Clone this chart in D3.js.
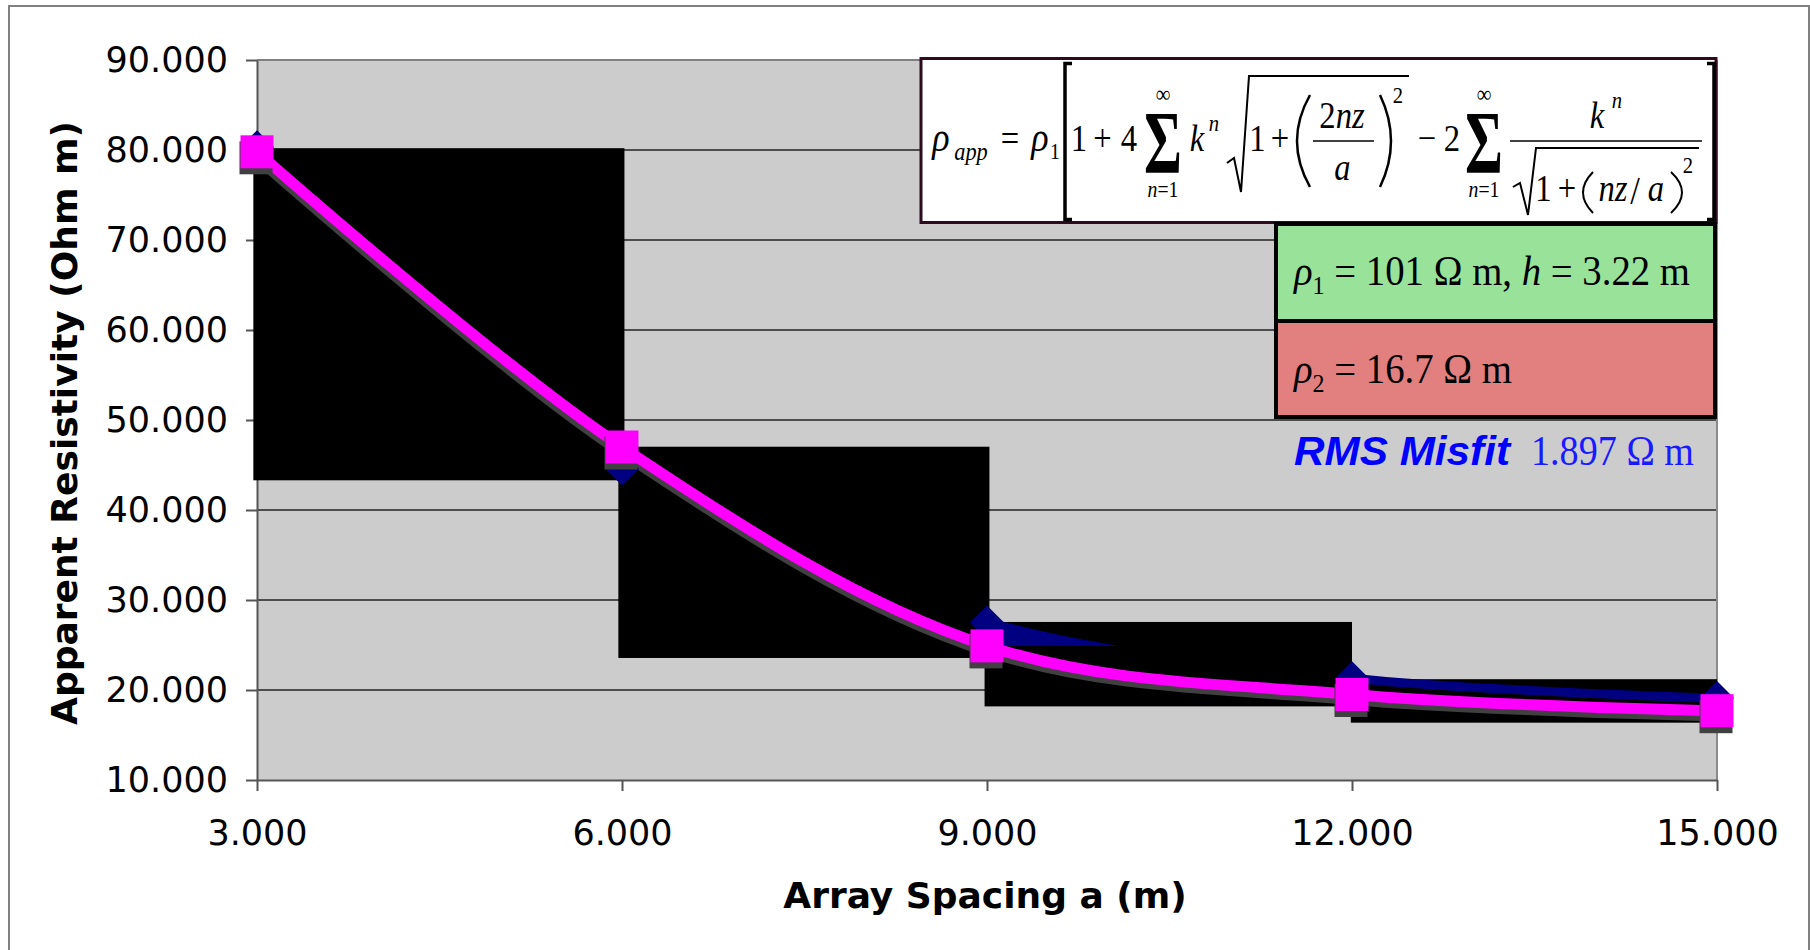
<!DOCTYPE html>
<html><head><meta charset="utf-8">
<script src="https://cdn.jsdelivr.net/npm/d3@7"></script>
<style>html,body{margin:0;padding:0;background:#fff;} svg{display:block;} text{white-space:pre;}</style>
</head><body>
<svg id="chart" width="1810" height="950"></svg>
<script>
// ---------- data ----------
const spacing = [3, 6, 9, 12, 15];                 // array spacing a (m)
const observed = [80.3, 44.6, 27.5, 21.3, 19.1];   // measured apparent resistivity (navy diamonds)
const model = [79.8, 47.0, 24.9, 19.5, 17.7];      // two-layer model (magenta squares)
const yTickValues = [10, 20, 30, 40, 50, 60, 70, 80, 90];
const xTickValues = [3, 6, 9, 12, 15];
// black rendering blocks seen in the original (data units)
const blockX0 = [2.97, 5.97, 8.98, 11.99];
const blockX1 = [6.02, 9.02, 12.0, 15.0];
const blockTop = [80.2, 47.03, 27.56, 21.2];
const blockBottom = [43.3, 23.56, 18.18, 16.37];

const serif = "'Liberation Serif','Times New Roman',serif";
const sans = "'DejaVu Sans',Verdana,sans-serif";

const svg = d3.select("#chart");
const W = 1810, H = 950;
const m = {left: 257, right: 1717, top: 60, bottom: 780};
const x = d3.scaleLinear().domain([3, 15]).range([m.left, m.right]);
const y = d3.scaleLinear().domain([10, 90]).range([m.bottom, m.top]);

// outer frame
svg.append("rect").attr("x", 9).attr("y", 6).attr("width", 1800).attr("height", 980)
  .attr("fill", "#fff").attr("stroke", "#808080").attr("stroke-width", 2);

// plot background
svg.append("rect").attr("x", m.left).attr("y", m.top)
  .attr("width", m.right - m.left).attr("height", m.bottom - m.top).attr("fill", "#cccccc");

// gridlines
svg.append("g").selectAll("line").data(yTickValues.filter(v => v > 10 && v < 90)).join("line")
  .attr("x1", m.left).attr("x2", m.right).attr("y1", d => y(d)).attr("y2", d => y(d))
  .attr("stroke", "#4d4d4d").attr("stroke-width", 2);
svg.append("line").attr("x1", m.left).attr("x2", m.right).attr("y1", y(90)).attr("y2", y(90))
  .attr("stroke", "#808080").attr("stroke-width", 2);
svg.append("line").attr("x1", x(15)).attr("x2", x(15)).attr("y1", m.top).attr("y2", m.bottom)
  .attr("stroke", "#8a8a8a").attr("stroke-width", 2);

// axes
const yAxis = d3.axisLeft(y).tickValues(yTickValues).tickFormat(d3.format(".3f"))
  .tickSize(11).tickSizeOuter(0).tickPadding(18);
const gy = svg.append("g").attr("transform", `translate(${m.left},0)`).call(yAxis);
const xAxis = d3.axisBottom(x).tickValues(xTickValues).tickFormat(d3.format(".3f"))
  .tickSize(11).tickSizeOuter(0).tickPadding(29);
const gx = svg.append("g").attr("transform", `translate(0,${m.bottom})`).call(xAxis);
[gy, gx].forEach(g => {
  g.attr("font-family", sans).attr("font-size", 35);
  g.select(".domain").attr("stroke", "#555").attr("stroke-width", 2);
  g.selectAll(".tick line").attr("stroke", "#555").attr("stroke-width", 2);
  g.selectAll(".tick text").attr("fill", "#000");
});

// black blocks
svg.append("g").selectAll("rect").data(d3.range(blockX0.length)).join("rect")
  .attr("x", i => x(blockX0[i])).attr("width", i => x(blockX1[i]) - x(blockX0[i]))
  .attr("y", i => y(blockTop[i])).attr("height", i => y(blockBottom[i]) - y(blockTop[i]))
  .attr("fill", "#000");

// clip regions where the navy series line shows
const defs = svg.append("defs");
defs.append("clipPath").attr("id", "clipWedge").append("rect")
  .attr("x", x(9)).attr("y", 0).attr("width", x(12) - x(9)).attr("height", y(model[2]));
defs.append("clipPath").attr("id", "clipBand").append("rect")
  .attr("x", x(12)).attr("y", 0).attr("width", W - x(12)).attr("height", H);

const curve = d3.curveCatmullRom;
const line = d3.line().x((d, i) => x(spacing[i])).y(d => y(d)).curve(curve);
const area = d3.area().x((d, i) => x(spacing[i])).y0(m.bottom).y1(d => y(d)).curve(curve);

const wedge = svg.append("g").attr("clip-path", "url(#clipWedge)");
wedge.append("path").attr("d", area(observed)).attr("fill", "#000080");
wedge.append("path").attr("d", line(observed)).attr("fill", "none").attr("stroke", "#000080").attr("stroke-width", 10);
svg.append("g").attr("clip-path", "url(#clipBand)").append("path").attr("d", line(observed))
  .attr("fill", "none").attr("stroke", "#000080").attr("stroke-width", 9);

// model line with shadow
svg.append("path").attr("d", line(model)).attr("fill", "none").attr("stroke", "#404040")
  .attr("stroke-width", 11).attr("stroke-linejoin", "round").attr("transform", "translate(-1,5)");
svg.append("path").attr("d", line(model)).attr("fill", "none").attr("stroke", "#ff00ff")
  .attr("stroke-width", 11).attr("stroke-linejoin", "round");

// diamonds
svg.append("g").selectAll("path").data(observed).join("path")
  .attr("d", "M0,-17L17,0L0,17L-17,0Z")
  .attr("transform", (d, i) => `translate(${x(spacing[i])},${y(d)})`).attr("fill", "#000080");

// squares with shadow
const sq = 33;
svg.append("g").selectAll("rect").data(model).join("rect")
  .attr("x", (d, i) => x(spacing[i]) - sq / 2 - 1).attr("y", d => y(d) - sq / 2 + 6)
  .attr("width", sq).attr("height", sq).attr("fill", "#404040");
svg.append("g").selectAll("rect").data(model).join("rect")
  .attr("x", (d, i) => x(spacing[i]) - sq / 2).attr("y", d => y(d) - sq / 2)
  .attr("width", sq).attr("height", sq).attr("fill", "#ff00ff");

// axis titles
svg.append("text").attr("x", 985).attr("y", 908).attr("text-anchor", "middle")
  .attr("font-family", sans).attr("font-weight", "bold").attr("font-size", 36).text("Array Spacing a (m)");
svg.append("text").attr("transform", "translate(77,423) rotate(-90)").attr("text-anchor", "middle")
  .attr("font-family", sans).attr("font-weight", "bold").attr("font-size", 36).text("Apparent Resistivity (Ohm m)");

// ---------- formula box ----------
svg.append("rect").attr("x", 921).attr("y", 58.5).attr("width", 795).attr("height", 164)
  .attr("fill", "#fff").attr("stroke", "#2d0a1e").attr("stroke-width", 3);
const fg = svg.append("g").attr("font-family", serif).attr("fill", "#000");
const SX = 0.86;   // narrow equation-editor look
function ft(str, cx, by, size, italic) {
  const t = fg.append("text").attr("transform", `translate(${cx},${by}) scale(${SX},1)`)
    .attr("font-size", size).attr("text-anchor", "middle");
  if (italic) t.attr("font-style", "italic");
  if (str !== null) t.text(str);
  return t;
}
function pth(d, w) { fg.append("path").attr("d", d).attr("fill", "none").attr("stroke", "#000").attr("stroke-width", w); }
function paren(x0, x1, top, bot, w) { pth(`M${x1},${top}Q${2 * x0 - x1},${(top + bot) / 2} ${x1},${bot}`, w); }
function sigma(cx) {
  fg.append("text").attr("transform", `translate(${cx},172) scale(1,1.55)`).attr("text-anchor", "middle")
    .attr("font-size", 58).attr("font-weight", "bold").text("Σ");
  ft("∞", cx, 102, 24, false);
  const t = ft(null, cx, 197, 23, false);
  t.append("tspan").attr("font-style", "italic").text("n");
  t.append("tspan").text("=1");
}
ft("ρ", 941, 151, 42, true);
ft("app", 971, 160, 26, true);
ft("=", 1010, 151, 38, false);
ft("ρ", 1040, 151, 42, true);
ft("1", 1055, 159, 23, false);
pth("M1072,63.5H1065V219.5H1072", 3.5);
ft("1", 1079, 151, 38, false);
ft("+", 1102.5, 151, 38, false);
ft("4", 1129, 151, 38, false);
sigma(1163);
ft("k", 1197, 151, 38, true);
ft("n", 1214, 131, 24, true);
pth("M1227,163L1234,158L1241,192L1249,76H1409", 2);
ft("1", 1257.5, 151, 38, false);
ft("+", 1280, 151, 38, false);
paren(1297, 1310, 95, 187, 2.5);
{ const t = ft(null, 1342, 128, 38, false); t.append("tspan").text("2"); t.append("tspan").attr("font-style", "italic").text("nz"); }
pth("M1313,141H1374", 1.6);
ft("a", 1342.5, 180, 38, true);
paren(1391, 1380, 95, 187, 2.5);
ft("2", 1398, 103, 24, false);
ft("−", 1427, 151, 38, false);
ft("2", 1452, 151, 38, false);
sigma(1484);
ft("k", 1597, 128, 38, true);
ft("n", 1617, 108, 24, true);
pth("M1510,141H1702", 1.6);
pth("M1513,187L1520,183L1528,215L1536,148H1699", 2);
ft("1", 1543.5, 201, 38, false);
ft("+", 1567, 201, 38, false);
paren(1583, 1593, 172, 213, 2);
ft("nz", 1613, 201, 38, true);
ft("/", 1635, 204, 40, false);
ft("a", 1656, 201, 38, true);
paren(1682, 1671, 172, 213, 2);
ft("2", 1688, 173, 24, false);
pth("M1707,63.5H1714V219.5H1707", 3.5);

// ---------- parameter boxes ----------
svg.append("rect").attr("x", 1276).attr("y", 224).attr("width", 439).attr("height", 97)
  .attr("fill", "#99e299").attr("stroke", "#000").attr("stroke-width", 4);
svg.append("rect").attr("x", 1276).attr("y", 321).attr("width", 439).attr("height", 96)
  .attr("fill", "#e27f7f").attr("stroke", "#000").attr("stroke-width", 4);

const t1 = svg.append("text").attr("x", 1294).attr("y", 285).attr("font-family", serif).attr("font-size", 42);
t1.append("tspan").attr("font-style", "italic").text("ρ");
t1.append("tspan").attr("font-size", 26).attr("dy", 9).text("1");
t1.append("tspan").attr("dy", -9).text(" = 101 Ω m, ");
t1.append("tspan").attr("font-style", "italic").text("h");
t1.append("tspan").text(" = 3.22 m");
t1.attr("textLength", 396).attr("lengthAdjust", "spacingAndGlyphs");

const t2 = svg.append("text").attr("x", 1294).attr("y", 383).attr("font-family", serif).attr("font-size", 42);
t2.append("tspan").attr("font-style", "italic").text("ρ");
t2.append("tspan").attr("font-size", 26).attr("dy", 9).text("2");
t2.append("tspan").attr("dy", -9).text(" = 16.7 Ω m");
t2.attr("textLength", 218).attr("lengthAdjust", "spacingAndGlyphs");

svg.append("text").attr("x", 1294).attr("y", 465).attr("font-family", "'Liberation Sans',Arial,sans-serif")
  .attr("font-weight", "bold").attr("font-style", "italic").attr("font-size", 41).attr("fill", "#0000ff")
  .attr("textLength", 216).attr("lengthAdjust", "spacingAndGlyphs").text("RMS Misfit");
svg.append("text").attr("x", 1531).attr("y", 465).attr("font-family", serif).attr("font-size", 42)
  .attr("fill", "#1a1aff").attr("textLength", 163).attr("lengthAdjust", "spacingAndGlyphs").text("1.897 Ω m");
</script>
</body></html>
